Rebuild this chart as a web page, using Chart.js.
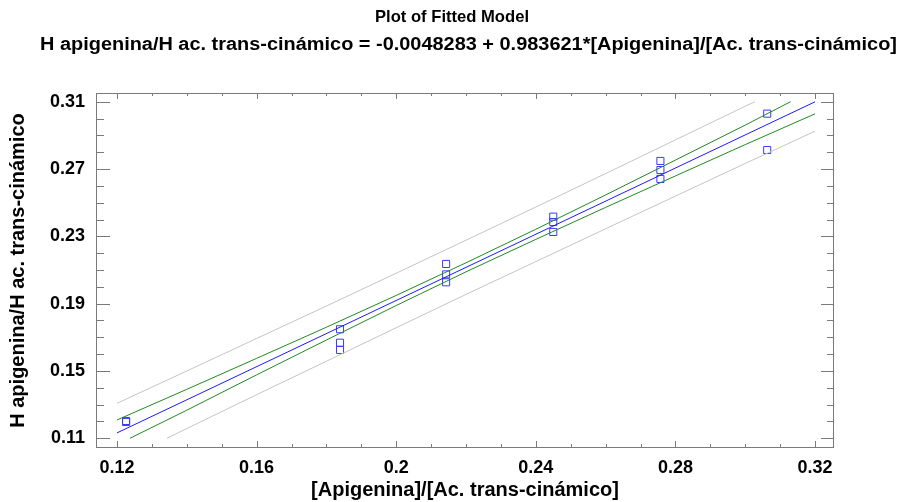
<!DOCTYPE html>
<html>
<head>
<meta charset="utf-8">
<script src="https://cdn.jsdelivr.net/npm/chart.js@4.4.0/dist/chart.umd.min.js"></script>
<style>
  html, body { margin: 0; padding: 0; background: #ffffff; }
  #wrap { width: 901px; height: 502px; }
</style>
</head>
<body>
<div id="wrap"><canvas id="chart" width="901" height="502"></canvas></div>
<script>
// Fitted model coefficients (as printed in the title)
const modelIntercept = -0.0048283;
const modelSlope = 0.983621;

// Observations
const obsX = [0.1226, 0.1226, 0.1839, 0.1839, 0.1839, 0.2143, 0.2143, 0.2143,
              0.2450, 0.2450, 0.2450, 0.2757, 0.2757, 0.2757, 0.3063, 0.3063];
const obsY = [0.1203, 0.1197, 0.1748, 0.1668, 0.1625, 0.2136, 0.2074, 0.2027,
              0.2417, 0.2385, 0.2326, 0.2748, 0.2694, 0.2641, 0.3029, 0.2813];

// Fitted line end points
const fitX = [0.12, 0.32];

// 95% confidence limits for the mean
const confUpperX = [0.12, 0.14, 0.16, 0.18, 0.20, 0.22, 0.24, 0.26, 0.28, 0.30, 0.313];
const confUpperY = [0.1209, 0.1391, 0.1575, 0.1760, 0.1949, 0.2143, 0.2342, 0.2546, 0.2753, 0.2961, 0.3100];
const confLowerX = [0.1237, 0.14, 0.16, 0.18, 0.20, 0.22, 0.24, 0.26, 0.28, 0.30, 0.32];
const confLowerY = [0.1100, 0.1267, 0.1477, 0.1684, 0.1889, 0.2089, 0.2282, 0.2472, 0.2659, 0.2845, 0.3028];

// 95% prediction limits
const predUpperX = [0.12, 0.14, 0.16, 0.18, 0.20, 0.22, 0.24, 0.26, 0.28, 0.30, 0.3028];
const predUpperY = [0.1308, 0.1500, 0.1693, 0.1886, 0.2081, 0.2277, 0.2474, 0.2673, 0.2873, 0.3073, 0.3100];
const predLowerX = [0.1343, 0.14, 0.16, 0.18, 0.20, 0.22, 0.24, 0.26, 0.28, 0.30, 0.32];
const predLowerY = [0.1100, 0.1158, 0.1359, 0.1558, 0.1757, 0.1955, 0.2150, 0.2345, 0.2539, 0.2733, 0.2925];

// Axis tick labels
const xTickLabels = ['0.12', '0.16', '0.2', '0.24', '0.28', '0.32'];
const yTickLabels = ['0.11', '0.15', '0.19', '0.23', '0.27', '0.31'];

const titleLines = [
  'Plot of Fitted Model',
  'H apigenina/H ac. trans-cinámico = -0.0048283 + 0.983621*[Apigenina]/[Ac. trans-cinámico]'
];
const xAxisTitle = '[Apigenina]/[Ac. trans-cinámico]';
const yAxisTitle = 'H apigenina/H ac. trans-cinámico';

const FONT = '"Liberation Sans", Arial, sans-serif';
const frameColor = '#7a7a7a';

const pairs = (xs, ys) => xs.map((x, i) => ({ x, y: ys[i] }));
const fitPoints = fitX.map(x => ({ x, y: modelIntercept + modelSlope * x }));

function labelFor(list, value) {
  const hit = list.find(l => Math.abs(Number(l) - value) < 1e-6);
  return hit === undefined ? '' : hit;
}

// Draws a text line centred at cx, stretched/condensed to the given width
function fitText(ctx, text, cx, cy, width) {
  const w = ctx.measureText(text).width;
  ctx.save();
  ctx.translate(cx, cy);
  ctx.scale(width / w, 1);
  ctx.fillText(text, 0, 0);
  ctx.restore();
}

// Two-line title drawn above the plot
const titlePlugin = {
  id: 'titleLines',
  afterDraw(chart) {
    const ctx = chart.ctx;
    ctx.save();
    ctx.fillStyle = '#000';
    ctx.textAlign = 'center';
    ctx.textBaseline = 'middle';
    ctx.font = 'bold 17px ' + FONT;
    fitText(ctx, titleLines[0], 452, 17, 154);
    ctx.font = 'bold 18px ' + FONT;
    fitText(ctx, titleLines[1], 468.5, 45, 857);
    ctx.restore();
  }
};

// Plot frame with inward tick marks on all four sides
const framePlugin = {
  id: 'frameTicks',
  afterDatasetsDraw(chart) {
    const { ctx, chartArea: a, scales: { x, y } } = chart;
    ctx.save();
    ctx.strokeStyle = frameColor;
    ctx.lineWidth = 1;
    ctx.strokeRect(a.left + 0.5, a.top + 0.5, a.right - a.left - 1, a.bottom - a.top - 1);
    ctx.beginPath();
    x.ticks.forEach(t => {
      const px = Math.round(x.getPixelForValue(t.value)) + 0.5;
      const major = labelFor(xTickLabels, t.value) !== '';
      ctx.moveTo(px, a.bottom);
      ctx.lineTo(px, a.bottom - (major ? 7 : 4));
      ctx.moveTo(px, a.top);
      ctx.lineTo(px, a.top + (major ? 6 : 3));
    });
    y.ticks.forEach(t => {
      const py = Math.round(y.getPixelForValue(t.value)) + 0.5;
      const major = labelFor(yTickLabels, t.value) !== '';
      ctx.moveTo(a.left, py);
      ctx.lineTo(a.left + (major ? 14 : 8), py);
      ctx.moveTo(a.right, py);
      ctx.lineTo(a.right - (major ? 13 : 7), py);
    });
    ctx.stroke();
    ctx.restore();
  }
};

const lineStyle = (color) => ({
  showLine: true,
  borderColor: color,
  borderWidth: 1,
  pointRadius: 0,
  pointHoverRadius: 0,
  fill: false,
  tension: 0
});

new Chart(document.getElementById('chart'), {
  type: 'scatter',
  data: {
    datasets: [
      { label: 'pred upper', data: pairs(predUpperX, predUpperY), ...lineStyle('#c4c4c4') },
      { label: 'pred lower', data: pairs(predLowerX, predLowerY), ...lineStyle('#c4c4c4') },
      { label: 'conf upper', data: pairs(confUpperX, confUpperY), ...lineStyle('#1f8a1f') },
      { label: 'conf lower', data: pairs(confLowerX, confLowerY), ...lineStyle('#1f8a1f') },
      { label: 'fit', data: fitPoints, ...lineStyle('#1a1aff') },
      {
        label: 'observed',
        data: pairs(obsX, obsY),
        pointStyle: 'rect',
        pointRadius: 5,
        pointBorderWidth: 1,
        pointBorderColor: '#3a3aff',
        pointBackgroundColor: 'rgba(0,0,0,0)',
        showLine: false
      }
    ]
  },
  options: {
    responsive: false,
    animation: false,
    events: [],
    layout: { padding: { top: 93, right: 67, left: 0, bottom: 0 } },
    plugins: {
      legend: { display: false },
      title: { display: false },
      tooltip: { enabled: false }
    },
    scales: {
      x: {
        type: 'linear',
        min: 0.11398,
        max: 0.32544,
        grid: { display: false, drawTicks: false },
        border: { display: false },
        ticks: {
          stepSize: 0.01,
          includeBounds: false,
          autoSkip: false,
          maxRotation: 0,
          padding: 9,
          color: '#000',
          font: { family: FONT, size: 18, weight: 'bold' },
          callback: (v) => labelFor(xTickLabels, v)
        },
        title: {
          display: true,
          text: xAxisTitle,
          color: '#000',
          font: { family: FONT, size: 20, weight: 'bold' },
          padding: { top: 0, bottom: 0 }
        },
        afterFit: (s) => { s.height = 54; }
      },
      y: {
        type: 'linear',
        min: 0.10424,
        max: 0.31517,
        grid: { display: false, drawTicks: false },
        border: { display: false },
        ticks: {
          stepSize: 0.01,
          includeBounds: false,
          autoSkip: false,
          padding: 11,
          color: '#000',
          font: { family: FONT, size: 18, weight: 'bold' },
          callback: (v) => labelFor(yTickLabels, v)
        },
        title: {
          display: true,
          text: yAxisTitle,
          color: '#000',
          font: { family: FONT, size: 20, weight: 'bold' },
          padding: { top: 6, bottom: 0 }
        },
        afterFit: (s) => { s.width = 96; }
      }
    }
  },
  plugins: [framePlugin, titlePlugin]
});
</script>
</body>
</html>
